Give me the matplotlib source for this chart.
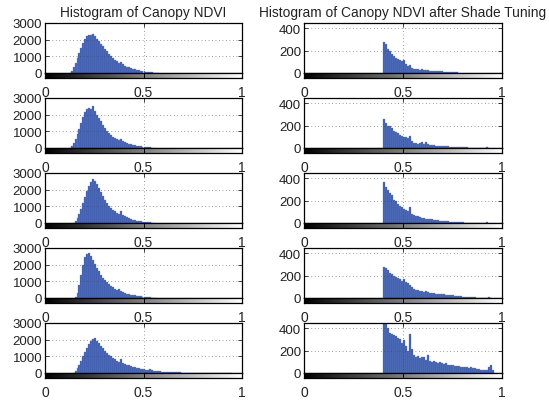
import numpy as np
import matplotlib
matplotlib.use("Agg")
import matplotlib.pyplot as plt

plt.rcParams['font.family'] = ['Liberation Sans', 'DejaVu Sans']
plt.rcParams['font.size'] = 9.5

# bin width of the histograms (NDVI units)
BIN = 0.01

TITLE_LEFT = "Histogram of Canopy NDVI"
TITLE_RIGHT = "Histogram of Canopy NDVI after Shade Tuning"

# canopy NDVI, first bin start and counts per bin
left_start = [0.12, 0.12, 0.14, 0.15, 0.14]
left_counts = [
    [30, 150, 350, 600, 900, 1200, 1500, 1800, 2050, 2250, 2300, 2280, 2350, 2200,
     2050, 1900, 1750, 1600, 1450, 1300, 1150, 1000, 900, 800, 700, 620, 680, 520,
     450, 390, 340, 300, 260, 220, 190, 160, 140, 120, 100, 80, 65, 50, 40, 30, 20, 10],
    [20, 120, 300, 550, 850, 1150, 1500, 1850, 2150, 2350, 2400, 2350, 2500, 2200,
     2000, 1800, 1600, 1400, 1200, 1050, 900, 780, 680, 600, 530, 470, 560, 400,
     340, 290, 250, 220, 190, 160, 140, 120, 100, 85, 70, 55, 45, 35, 25, 15],
    [30, 120, 300, 550, 850, 1200, 1550, 1900, 2200, 2450, 2650, 2550, 2350, 2100,
     1850, 1600, 1400, 1200, 1050, 920, 800, 700, 610, 540, 700, 480, 400, 340,
     290, 250, 210, 180, 150, 125, 105, 90, 75, 60, 50, 40, 30, 20],
    [50, 300, 800, 1400, 2000, 2450, 2650, 2700, 2500, 2300, 2050, 1800, 1600, 1400,
     1220, 1080, 950, 840, 740, 650, 570, 500, 560, 420, 360, 310, 270, 235, 205,
     180, 155, 135, 115, 100, 85, 70, 58, 47, 37, 28, 20, 12],
    [30, 130, 300, 500, 750, 1000, 1250, 1500, 1750, 1950, 2050, 2100, 1950, 1800,
     1650, 1500, 1350, 1220, 1100, 1000, 900, 820, 750, 690, 850, 600, 550, 500,
     460, 420, 380, 340, 310, 285, 260, 240, 220, 200, 180, 250, 160, 140, 125, 110,
     100, 90, 80, 72, 65, 58, 52, 46, 40, 36, 32, 28, 25, 22, 20, 18, 16, 14, 12, 10,
     8, 7, 6, 6, 5, 5, 4, 4, 4, 3, 3, 3, 3, 3, 2, 2, 2],
]

# NDVI after shade tuning (everything below 0.4 removed)
right_start = [0.40, 0.40, 0.40, 0.40, 0.40]
right_counts = [
    [280, 255, 215, 195, 170, 150, 135, 125, 120, 105, 120, 80, 65, 75, 45, 38, 36,
     34, 30, 32, 28, 30, 26, 22, 20, 18, 16, 18, 14, 15, 12, 10, 10, 12, 10, 8, 6, 5],
    [255, 225, 200, 195, 175, 150, 140, 130, 120, 110, 95, 100, 90, 105, 60, 45, 42,
     40, 45, 50, 40, 55, 35, 30, 28, 25, 22, 20, 18, 17, 16, 15, 14, 12, 11, 10, 10,
     8, 9, 7, 6, 6, 5, 4, 4, 3, 3, 3, 2, 2, 2, 2, 8, 2],
    [365, 320, 290, 270, 250, 205, 195, 170, 150, 140, 125, 115, 105, 145, 80, 68, 60,
     58, 52, 48, 45, 40, 38, 35, 32, 30, 28, 25, 22, 20, 18, 16, 14, 12, 10, 10, 8, 7,
     6, 5, 5, 4, 4, 3, 3, 3, 2, 2, 2, 2, 2, 2, 5],
    [275, 265, 245, 225, 215, 200, 190, 175, 165, 150, 165, 140, 135, 115, 100, 80, 75,
     70, 62, 60, 55, 58, 50, 47, 44, 45, 40, 38, 36, 35, 32, 30, 28, 26, 24, 23, 22,
     20, 18, 15, 12, 10, 9, 8, 7, 6, 5, 4, 4, 3, 3, 3, 3, 10, 2],
    [480, 440, 400, 360, 345, 340, 330, 315, 300, 270, 290, 240, 195, 345, 210, 160,
     140, 150, 130, 145, 140, 120, 160, 110, 100, 105, 95, 90, 100, 85, 80, 90, 75, 72,
     70, 68, 62, 60, 58, 55, 55, 52, 50, 48, 50, 45, 42, 40, 38, 30, 28, 25, 30, 55,
     75, 30],
]

left_yticks = [0, 1000, 2000, 3000]
right_yticks = [0, 200, 400]
xticks = [0, 0.5, 1]
xticklabels = ["0", "0.5", "1"]

BAR_COLOR = "#3c5bad"
W, H = 549, 402

fig = plt.figure(figsize=(W / 100, H / 100), dpi=100)
gradient = np.linspace(0, 1, 256).reshape(1, -1)


def px(x0, top, w, h):
    return [x0 / W, 1 - (top + h) / H, w / W, h / H]


def panel(x0, w, top, start, counts, ylim, yticks, title=None):
    ax = fig.add_axes(px(x0, top, w, 50))
    centers = start + BIN * np.arange(len(counts)) + BIN / 2
    ax.bar(centers, counts, width=BIN, color=BAR_COLOR, edgecolor="#6f86c8",
           linewidth=0.25)
    ax.set_xlim(0, 1)
    ax.set_ylim(0, ylim)
    ax.set_xticks([0.5])
    ax.set_xticklabels([])
    ax.set_yticks(yticks)
    ax.tick_params(direction="in", length=3, width=0.6, right=True, top=True,
                   bottom=False, pad=2, colors="#222222", labelcolor="#222222")
    ax.grid(True, color="#444444", linestyle=(0, (1, 4)), linewidth=0.5)
    for s in ax.spines.values():
        s.set_linewidth(0.9)
    if title:
        ax.set_title(title, fontsize=9.9, pad=5, color="#222222")

    sx = fig.add_axes(px(x0, top + 50, w, 5))
    sx.imshow(gradient, cmap="gray", aspect="auto", extent=[0, 1, 0, 1])
    sx.set_xlim(0, 1)
    sx.set_yticks([])
    sx.set_xticks(xticks)
    sx.set_xticklabels(xticklabels)
    sx.tick_params(axis="x", direction="in", length=3, width=0.6, top=True, pad=5,
                   labelcolor="#222222", labelsize=10)
    for s in sx.spines.values():
        s.set_linewidth(0.9)


for i in range(5):
    top = 24 + 75 * i
    panel(45, 197, top, left_start[i], left_counts[i], 3000, left_yticks,
          TITLE_LEFT if i == 0 else None)
    panel(304, 198, top, right_start[i], right_counts[i], 445, right_yticks,
          TITLE_RIGHT if i == 0 else None)

fig.savefig("out.png", dpi=100)
